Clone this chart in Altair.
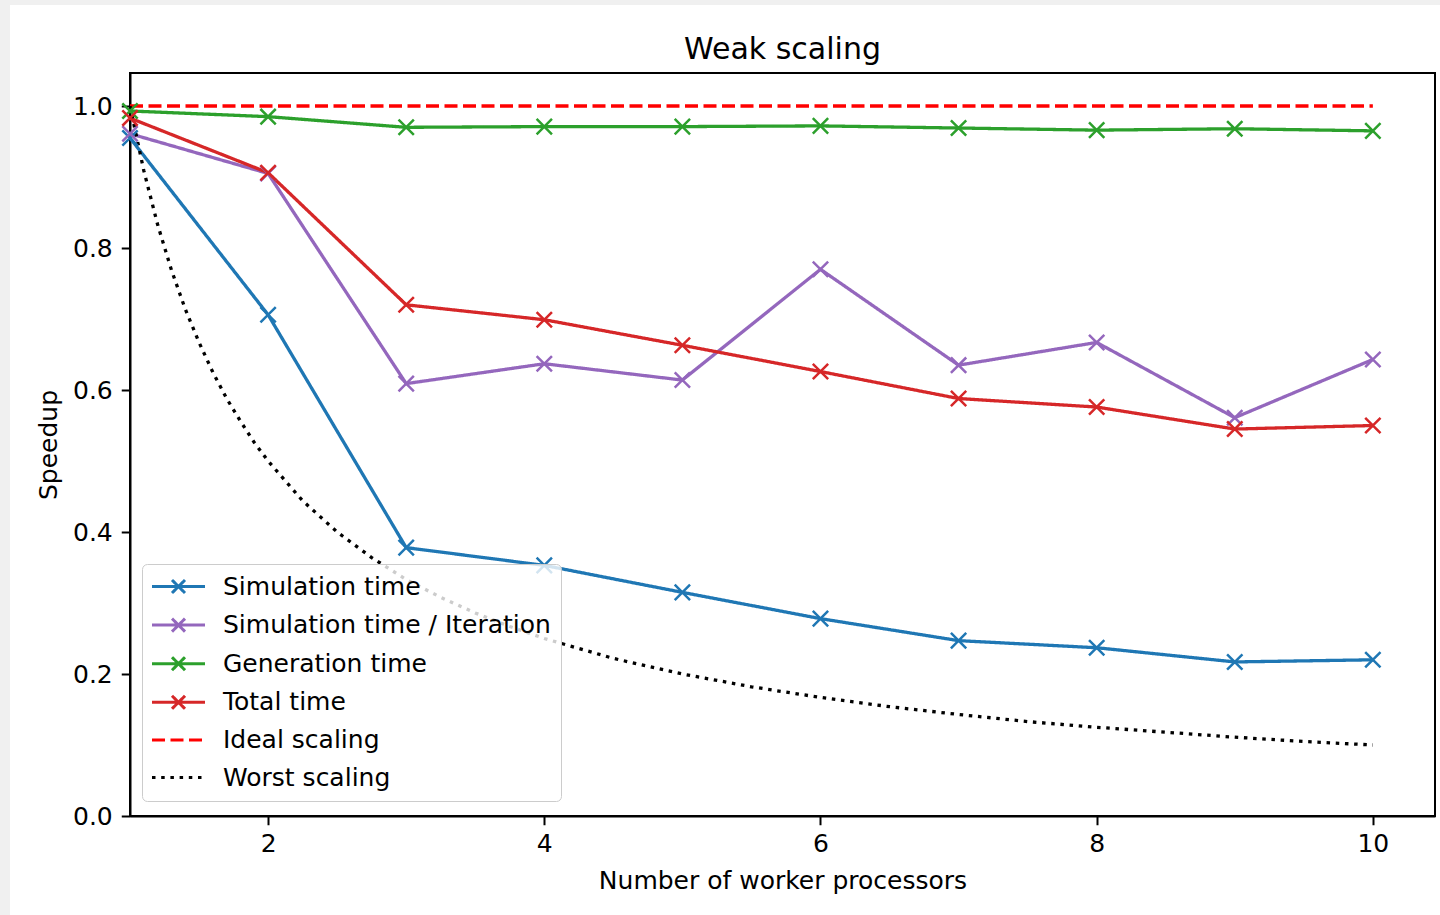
import altair as alt
import pandas as pd

# Weak-scaling speedup measurements per number of worker processors
workers = [1, 2, 3, 4, 5, 6, 7, 8, 9, 10]
sim_time = [0.955, 0.706, 0.378, 0.353, 0.315, 0.278, 0.247, 0.237, 0.217, 0.220]
sim_per_iter = [0.961, 0.905, 0.609, 0.637, 0.614, 0.770, 0.635, 0.667, 0.561, 0.643]
gen_time = [0.993, 0.985, 0.970, 0.971, 0.971, 0.972, 0.969, 0.966, 0.968, 0.965]
total_time = [0.983, 0.906, 0.720, 0.699, 0.663, 0.626, 0.588, 0.576, 0.545, 0.550]

# Reference curves
ideal_x = [1, 10]
ideal_y = [1.0, 1.0]
worst_x = [1.0, 1.1, 1.2, 1.3, 1.4, 1.5, 1.6, 1.7, 1.8, 1.9, 2.0, 2.25, 2.5, 2.75,
           3.0, 3.25, 3.5, 3.75, 4.0, 4.5, 5.0, 5.5, 6.0, 6.5, 7.0, 7.5, 8.0, 8.5,
           9.0, 9.5, 10.0]
worst_y = [1.000, 0.909, 0.833, 0.769, 0.714, 0.667, 0.625, 0.588, 0.556, 0.526,
           0.500, 0.444, 0.400, 0.364, 0.333, 0.308, 0.286, 0.267, 0.250, 0.222,
           0.200, 0.182, 0.167, 0.154, 0.143, 0.133, 0.125, 0.118, 0.111, 0.105,
           0.100]

series_names = ["Simulation time", "Simulation time / Iteration", "Generation time",
                "Total time", "Ideal scaling", "Worst scaling"]
series_colors = ["#1f77b4", "#9467bd", "#2ca02c", "#d62728", "#ff0000", "#000000"]
series_dashes = [[1, 0], [1, 0], [1, 0], [1, 0], [13, 5.5], [3.5, 5.7]]

chart_title = "Weak scaling"

measured = {
    "Simulation time": sim_time,
    "Simulation time / Iteration": sim_per_iter,
    "Generation time": gen_time,
    "Total time": total_time,
}

rows = []
for name, vals in measured.items():
    rows += [{"series": name, "n": x, "speedup": v} for x, v in zip(workers, vals)]
marker_df = pd.DataFrame(rows)
rows += [{"series": "Ideal scaling", "n": x, "speedup": v} for x, v in zip(ideal_x, ideal_y)]
rows += [{"series": "Worst scaling", "n": x, "speedup": v} for x, v in zip(worst_x, worst_y)]
line_df = pd.DataFrame(rows)

FONT = "DejaVu Sans"

# 'x' marker glyph, and legend handles: a line with an 'x' in its middle, or a bare line
X_MARK = "M-1,-1L1,1M-1,1L1,-1"
HANDLE_X = "M-1.786,0L5.786,0M1.071,-0.929L2.929,0.929M1.071,0.929L2.929,-0.929"
HANDLE_LINE = "M-1.786,0L5.786,0"
handle_shapes = [HANDLE_X, HANDLE_X, HANDLE_X, HANDLE_X, HANDLE_LINE, HANDLE_LINE]

legend = alt.Legend(
    orient="none", legendX=12, legendY=491, title=None,
    labelFont=FONT, labelFontSize=25, labelColor="#000000", labelLimit=600,
    labelOffset=46, rowPadding=11.6, padding=10,
    symbolSize=196, symbolStrokeWidth=3, symbolOpacity=1,
    symbolFillColor="transparent",
    fillColor="rgba(255,255,255,0.8)", strokeColor="#cccccc", cornerRadius=5,
)

x_enc = alt.X("n:Q", title="Number of worker processors",
              scale=alt.Scale(domain=[1, 10.45], nice=False, zero=False),
              axis=alt.Axis(values=[2, 4, 6, 8, 10], format="d"))
y_enc = alt.Y("speedup:Q", title="Speedup",
              scale=alt.Scale(domain=[0, 1.0465], nice=False, zero=False),
              axis=alt.Axis(values=[0, 0.2, 0.4, 0.6, 0.8, 1.0], format=".1f"))

color_scale = alt.Scale(domain=series_names, range=series_colors)
dash_scale = alt.Scale(domain=series_names, range=series_dashes)
shape_scale = alt.Scale(domain=series_names, range=handle_shapes)

lines = alt.Chart(line_df).mark_line(strokeWidth=3.3, clip=True).encode(
    x=x_enc, y=y_enc,
    color=alt.Color("series:N", scale=color_scale, legend=legend),
    strokeDash=alt.StrokeDash("series:N", scale=dash_scale, legend=legend),
    detail="series:N",
)

markers = alt.Chart(marker_df).mark_point(
    shape=X_MARK, size=235, filled=False, strokeWidth=2.5, opacity=1
).encode(
    x=x_enc, y=y_enc,
    color=alt.Color("series:N", scale=color_scale, legend=None),
)

# Carries the legend handle shapes only; it draws nothing of its own
handles = alt.Chart(alt.Data(values=[])).mark_point(filled=False, opacity=1).encode(
    color=alt.Color("series:N", scale=color_scale, legend=legend),
    shape=alt.Shape("series:N", scale=shape_scale, legend=legend),
)

# Notebook-style grey margin along the left and top edges
edge = pd.DataFrame({"k": [0]})
left_edge = alt.Chart(edge).mark_rect(color="#f0f0f0").encode(
    x=alt.value(-130), x2=alt.value(-120), y=alt.value(-73), y2=alt.value(842))
top_edge = alt.Chart(edge).mark_rect(color="#f0f0f0").encode(
    x=alt.value(-130), x2=alt.value(1310), y=alt.value(-73), y2=alt.value(-68))

# Chart title, centred over the plot
title_mark = alt.Chart(edge).mark_text(
    font=FONT, fontSize=30, color="#000000", align="center", baseline="alphabetic"
).encode(x=alt.value(652.5), y=alt.value(-14), text=alt.value(chart_title))

chart = alt.layer(left_edge, top_edge, title_mark, lines, markers, handles).properties(
    width=1305, height=743,
    padding={"left": 130, "top": 73, "right": 5, "bottom": 99},
    autosize="none",
    background="white",
).configure_view(
    stroke="#000000", strokeWidth=2
).configure_axis(
    grid=False, domainColor="#000000", domainWidth=2,
    tickColor="#000000", tickWidth=2, tickSize=8.75,
    labelFont=FONT, labelFontSize=25, labelColor="#000000",
    titleFont=FONT, titleFontSize=25, titleColor="#000000", titleFontWeight="normal",
).configure_axisX(
    labelPadding=7, titlePadding=12
).configure_axisY(
    labelPadding=9, titlePadding=11
)

chart.save("out.html", embed_options={"renderer": "svg", "actions": False})
